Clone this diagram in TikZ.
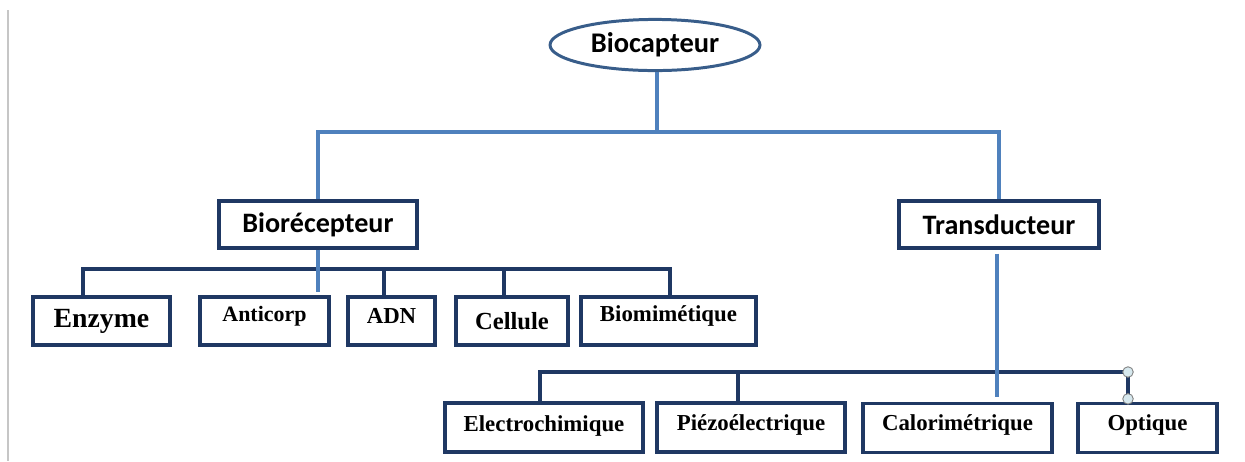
\documentclass[tikz,border=0pt]{standalone}
\usepackage{fontspec}
\setmainfont{Liberation Serif}
\newfontfamily\calib{Carlito}
\usetikzlibrary{shapes.geometric}
\definecolor{navy}{RGB}{31,56,99}
\definecolor{lineblue}{RGB}{79,129,189}
\definecolor{ellblue}{RGB}{56,93,138}
\definecolor{handle}{RGB}{214,232,238}
\begin{document}
\begin{tikzpicture}[x=0.02cm,y=-0.02cm,
  k/.style={rectangle,draw=navy,line width=1.9pt,inner sep=0pt,minimum height=0.94cm,font=\calib\bfseries\fontsize{16}{16}\selectfont},
  s/.style={rectangle,draw=navy,line width=1.9pt,inner sep=0pt,minimum height=0.96cm,font=\bfseries\fontsize{#1}{#1}\selectfont},
  s/.default=13,
  up/.style={text depth=#1},
  bl/.style={draw=lineblue,line width=2pt},
  nv/.style={draw=navy,line width=1.9pt}]
  \useasboundingbox (0,0) rectangle (1245,461);
  \draw[gray!45,line width=0.6pt] (8,10) -- (8,461);

  \node[ellipse,draw=ellblue,line width=1.7pt,minimum width=4.2cm,minimum height=1cm,font=\calib\bfseries\fontsize{16.2}{16}\selectfont] (bio) at (655,45) {Biocapteur};
  \node[k,minimum width=3.96cm] (recep) at (318,224.5) {Biorécepteur};
  \node[k,minimum width=4cm] (trans) at (999,224.5) {Transducteur};

  \node[s=15.8,minimum width=2.74cm] (enz) at (101.5,321) {Enzyme};
  \node[s=12.5,up=8.4pt,minimum width=2.58cm] (anti) at (264.5,321) {Anticorp};
  \node[s,up=5.7pt,minimum width=1.74cm] (adn) at (391.5,321) {ADN};
  \node[s=14,minimum width=2.24cm] (cell) at (512,321) {Cellule};
  \node[s,up=8.4pt,minimum width=3.5cm] (biom) at (668.5,321) {Biomimétique};

  \node[s,up=5pt,minimum height=0.98cm,minimum width=3.96cm] (elec) at (544,427.5) {Electrochimique};
  \node[s,up=6pt,minimum height=0.98cm,minimum width=3.76cm] (piezo) at (751,427.5) {Piézoélectrique};
  \node[s,up=6pt,minimum height=0.98cm,minimum width=3.78cm] (calo) at (957.5,428) {Calorimétrique};
  \node[s,up=6pt,minimum height=0.98cm,minimum width=2.78cm] (opt) at (1147.5,428) {Optique};

  % top level
  \coordinate (j0) at (657,132);
  \draw[bl] (bio.south -| j0) -- (j0);
  \draw[bl] (recep.north) |- (j0) -| (trans.north);

  % biorecepteur branch
  \coordinate (u1) at (83,269);
  \coordinate (u2) at (384,269);
  \coordinate (u3) at (504,269);
  \coordinate (u4) at (670,269);
  \draw[nv] (u1 |- enz.north) -- (u1) -- (u4) -- (u4 |- biom.north);
  \foreach \c/\n in {u2/adn,u3/cell}
    \draw[nv] (\c) -- (\c |- \n.north);
  \draw[bl] (recep.south) -- ++(0,42);

  % transducteur branch
  \coordinate (d1) at (540,372);
  \coordinate (d2) at (738,372);
  \coordinate (d3) at (1128,372);
  \coordinate (tend) at (997,397);
  \draw[nv] (d1 |- elec.north) -- (d1) -- (d3) -- (d3 |- opt.north);
  \draw[nv] (d2) -- (d2 |- piezo.north);
  \draw[bl] ([yshift=-2.3pt]trans.south -| tend) -- (tend);
  \foreach \p in {(d3),([yshift=1.7pt]d3 |- opt.north)}
    \filldraw[fill=handle,draw=gray,line width=0.5pt] \p circle[radius=3pt];
\end{tikzpicture}
\end{document}
